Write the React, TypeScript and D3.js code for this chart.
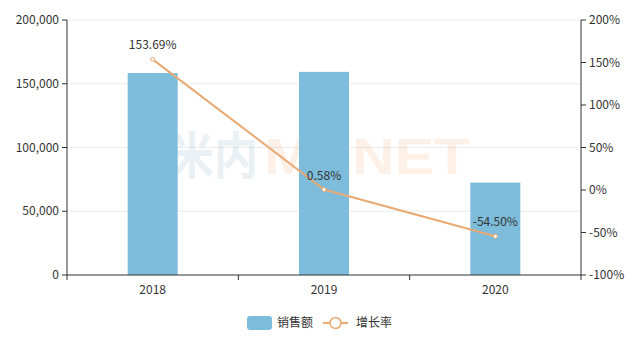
import * as d3 from 'd3';

const years = ['2018', '2019', '2020'];
const sales = [158400, 159320, 72490];
const growth = [153.69, 0.58, -54.5];
const leftTicks = [0, 50000, 100000, 150000, 200000];
const rightTicks = [-100, -50, 0, 50, 100, 150, 200];

const W = 643;
const H = 352;
const margin = { top: 20, right: 62, bottom: 77, left: 67 };
const barColor = '#7dbddb';
const lineColor = '#e9a973';
const font = '"Microsoft YaHei", "Noto Sans CJK SC", "Noto Sans", sans-serif';

const App = () => {
  const x0 = margin.left;
  const x1 = W - margin.right;
  const y0 = H - margin.bottom;
  const y1 = margin.top;

  const x = d3.scaleBand<string>().domain(years).range([x0, x1]);
  const yL = d3.scaleLinear().domain([0, 200000]).range([y0, y1]);
  const yR = d3.scaleLinear().domain([-100, 200]).range([y0, y1]);
  const fmt = d3.format(',');
  const barW = 50;
  const cx = (d: string) => (x(d) ?? 0) + x.bandwidth() / 2;

  const line = d3.line<number>()
    .x((_, i) => cx(years[i]))
    .y(d => yR(d));

  return (
    <svg width={W} height={H} style={{ position: 'absolute', left: 0, top: 0, background: '#fff' }} fontFamily={font}>
      {/* gridlines */}
      {leftTicks.filter(t => t > 0).map(t => (
        <line key={t} x1={x0} x2={x1} y1={yL(t)} y2={yL(t)} stroke="#ebebeb" strokeWidth={1} />
      ))}

      {/* watermark */}
      <g opacity={0.12} fontWeight="bold" fontSize={50}>
        <text x={170} y={174} fill="#5a8fa8" textLength={88} lengthAdjust="spacingAndGlyphs" fontFamily={font}>米内</text>
        <text x={264} y={174} fill="#f08a3c" textLength={206} lengthAdjust="spacingAndGlyphs" fontFamily="Arial, sans-serif">MENET</text>
      </g>

      {/* bars */}
      {years.map((d, i) => (
        <rect key={d} x={cx(d) - barW / 2} y={yL(sales[i])} width={barW} height={y0 - yL(sales[i])} fill={barColor} />
      ))}

      {/* line */}
      <path d={line(growth) ?? ''} fill="none" stroke={lineColor} strokeWidth={2} />
      {growth.map((g, i) => (
        <g key={i}>
          <circle cx={cx(years[i])} cy={yR(g)} r={2} fill="#fff" stroke={lineColor} strokeWidth={1} />
          <text x={cx(years[i])} y={yR(g) - 10} textAnchor="middle" fontSize={12} fill="#333">
            {g.toFixed(2)}%
          </text>
        </g>
      ))}

      {/* left axis */}
      <line x1={x0} x2={x0} y1={y1} y2={y0} stroke="#333" />
      {leftTicks.map(t => (
        <g key={t}>
          <line x1={x0 - 5} x2={x0} y1={yL(t)} y2={yL(t)} stroke="#333" />
          <text x={x0 - 8} y={yL(t)} dy="0.35em" textAnchor="end" fontSize={12} fill="#333">{fmt(t)}</text>
        </g>
      ))}

      {/* right axis */}
      <line x1={x1} x2={x1} y1={y1} y2={y0} stroke="#333" />
      {rightTicks.map(t => (
        <g key={t}>
          <line x1={x1} x2={x1 + 5} y1={yR(t)} y2={yR(t)} stroke="#333" />
          <text x={x1 + 8} y={yR(t)} dy="0.35em" textAnchor="start" fontSize={12} fill="#333">{t}%</text>
        </g>
      ))}

      {/* x axis */}
      <line x1={x0} x2={x1} y1={y0} y2={y0} stroke="#333" />
      {[...years.map(d => x(d) ?? 0), x1].map((t, i) => (
        <line key={i} x1={t} x2={t} y1={y0} y2={y0 + 5} stroke="#333" />
      ))}
      {years.map(d => (
        <text key={d} x={cx(d)} y={y0 + 19} textAnchor="middle" fontSize={12} fill="#333">{d}</text>
      ))}

      {/* legend */}
      <rect x={247} y={316} width={25} height={14} rx={3} fill={barColor} />
      <text x={277} y={323} dy="0.35em" fontSize={12} fill="#333">销售额</text>
      <line x1={323} x2={348} y1={323} y2={323} stroke={lineColor} strokeWidth={2} />
      <circle cx={335.5} cy={323} r={5.5} fill="#fff" stroke={lineColor} strokeWidth={1.5} />
      <text x={356} y={323} dy="0.35em" fontSize={12} fill="#333">增长率</text>
    </svg>
  );
};

export default App;
